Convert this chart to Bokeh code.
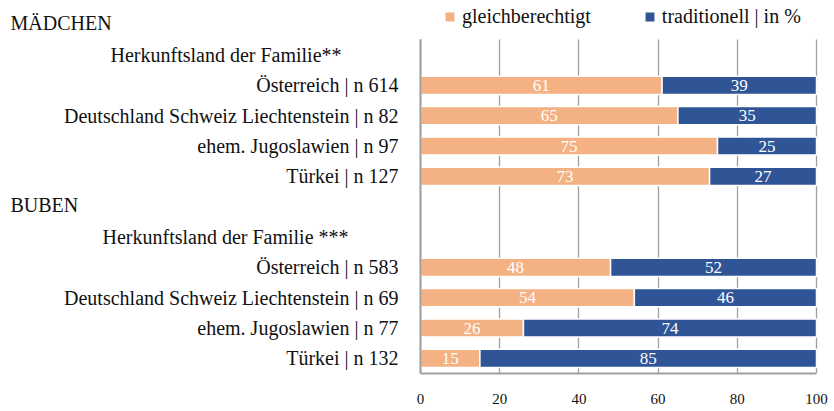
from bokeh.plotting import figure
from bokeh.models import Range1d, FixedTicker, Legend, LegendItem
from bokeh.core.properties import value
from bokeh.embed import file_html
from bokeh.resources import INLINE

# ---- data ----
group_titles = ["MÄDCHEN", "BUBEN"]
headers = ["Herkunftsland der Familie**", "Herkunftsland der Familie ***"]
girls_cats = ["Österreich | n 614", "Deutschland Schweiz Liechtenstein | n 82",
              "ehem. Jugoslawien | n 97", "Türkei | n 127"]
girls_equal = [61, 65, 75, 73]
girls_trad = [39, 35, 25, 27]
boys_cats = ["Österreich | n 583", "Deutschland Schweiz Liechtenstein | n 69",
             "ehem. Jugoslawien | n 77", "Türkei | n 132"]
boys_equal = [48, 54, 26, 15]
boys_trad = [52, 46, 74, 85]
series_names = ["gleichberechtigt", "traditionell | in %"]
x_ticks = [0, 20, 40, 60, 80, 100]

# ---- style / layout ----
FONT = "Liberation Serif"
ORANGE = "#F4B183"
BLUE = "#2F5597"
GRID = "#A0A0A0"
TXT = "#111111"
W, H = 834, 411
FRAME_H = 373
X0_PX, X100_PX = 420, 816          # pixel positions of 0 and 100
ROW_PX = 30.33
PX_PER_UNIT = (X100_PX - X0_PX) / 100.0
TITLE_X = (10 - X0_PX) / PX_PER_UNIT
HEADER_X = [(110 - X0_PX) / PX_PER_UNIT, (102 - X0_PX) / PX_PER_UNIT]

rows_top_down = ([group_titles[0], headers[0]] + girls_cats +
                 [group_titles[1], headers[1]] + boys_cats)
n_rows = len(rows_top_down)
ypos = {name: n_rows - 1 - i for i, name in enumerate(rows_top_down)}

cats = girls_cats + boys_cats
cat_y = [ypos[c] for c in cats]
equal = girls_equal + boys_equal
trad = girls_trad + boys_trad
trad_right = [e + t for e, t in zip(equal, trad)]
equal_mid = [e / 2 for e in equal]
trad_mid = [e + t / 2 for e, t in zip(equal, trad)]

plot_top = ypos[headers[0]] + 0.5     # grid / axis extent (rows inside the chart body)
plot_bottom = -0.5

p = figure(width=W, height=H, frame_width=W, frame_height=FRAME_H,
           x_range=Range1d(-X0_PX / PX_PER_UNIT, 100 + (W - X100_PX) / PX_PER_UNIT),
           y_range=Range1d(-0.5, -0.5 + FRAME_H / ROW_PX),
           output_backend="svg", toolbar_location=None,
           min_border_left=0, min_border_right=0, min_border_top=0,
           min_border_bottom=H - FRAME_H)
p.outline_line_color = None
p.background_fill_color = "white"
p.border_fill_color = "white"

# grid (drawn first)
p.xgrid.ticker = FixedTicker(ticks=x_ticks)
p.xgrid.bounds = (0, 100)
p.xgrid.cross_bounds = (plot_bottom, plot_top)
p.xgrid.grid_line_color = GRID
p.xgrid.grid_line_width = 1.3
p.ygrid.grid_line_color = None

r1 = p.hbar(y=cat_y, left=0, right=equal, height=0.6, fill_color=ORANGE,
            line_color="white", line_width=1.5)
r2 = p.hbar(y=cat_y, left=equal, right=trad_right, height=0.6, fill_color=BLUE,
            line_color="white", line_width=1.5)

p.text(x=equal_mid, y=cat_y, text=[str(v) for v in equal], text_align="center",
       text_baseline="middle", text_color="white", text_font=value(FONT),
       text_font_size="17px")
p.text(x=trad_mid, y=cat_y, text=[str(v) for v in trad], text_align="center",
       text_baseline="middle", text_color="white", text_font=value(FONT),
       text_font_size="17px")

# group titles and headers
p.text(x=[TITLE_X] * 2, y=[ypos[g] for g in group_titles], text=group_titles,
       text_align="left", text_baseline="middle", text_color=TXT,
       text_font=value(FONT), text_font_size="20px", y_offset=-2)
p.text(x=HEADER_X, y=[ypos[h] for h in headers], text=headers,
       text_align="left", text_baseline="middle", text_color=TXT,
       text_font=value(FONT), text_font_size="20px")

# x axis
p.xaxis.ticker = FixedTicker(ticks=x_ticks)
p.xaxis.bounds = (0, 100)
p.xaxis.axis_line_color = GRID
p.xaxis.axis_line_width = 2
p.xaxis.major_tick_out = 0
p.xaxis.major_tick_in = 0
p.xaxis.minor_tick_line_color = None
p.xaxis.major_label_text_font = FONT
p.xaxis.major_label_text_font_size = "15px"
p.xaxis.major_label_text_color = TXT
p.xaxis.major_label_standoff = 20

# y axis at x = 0 with category labels
p.yaxis.fixed_location = 0
p.yaxis.ticker = FixedTicker(ticks=cat_y)
p.yaxis.major_label_overrides = {y: c for y, c in zip(cat_y, cats)}
p.yaxis.bounds = (plot_bottom, plot_top)
p.yaxis.axis_line_color = GRID
p.yaxis.axis_line_width = 2
p.yaxis.major_tick_out = 0
p.yaxis.major_tick_in = 0
p.yaxis.minor_tick_line_color = None
p.yaxis.major_label_text_font = FONT
p.yaxis.major_label_text_font_size = "20px"
p.yaxis.major_label_text_color = TXT
p.yaxis.major_label_standoff = 22

legend = Legend(items=[LegendItem(label=series_names[0], renderers=[r1]),
                       LegendItem(label=series_names[1], renderers=[r2])],
                location=(443, FRAME_H - 28), orientation="horizontal", margin=0, padding=0,
                spacing=52, glyph_width=13, glyph_height=13, label_standoff=6,
                label_height=18, label_text_font=FONT, label_text_font_size="20px",
                label_text_color=TXT, border_line_color=None, background_fill_alpha=0)
p.add_layout(legend)

open("out.html", "w").write(file_html(p, INLINE))
